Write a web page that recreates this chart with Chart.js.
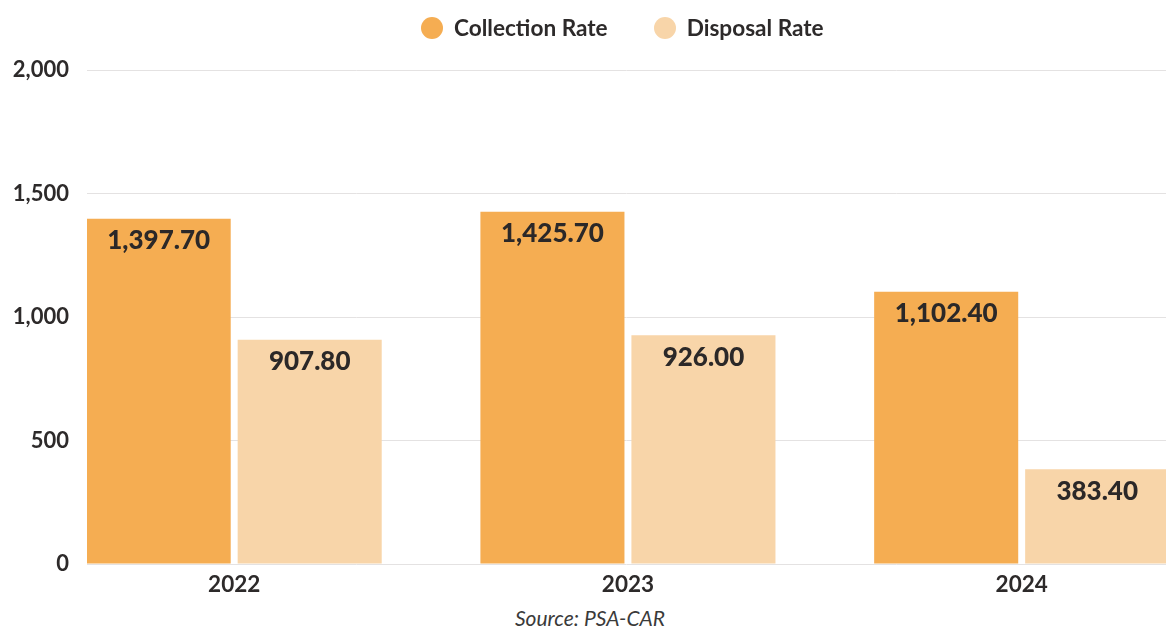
<!DOCTYPE html>
<html lang="en">
<head>
    <meta charset="UTF-8">
    <title>Collection and Disposal Rate</title>
    <script src="https://cdn.jsdelivr.net/npm/chart.js@4.4.1/dist/chart.umd.min.js"></script>
    <style>
        html, body { margin: 0; padding: 0; background: #fff; overflow: hidden; }
        #wrap { position: relative; width: 1166px; height: 630px; font-family: Lato, "Open Sans", sans-serif; }
        #chartBox { position: absolute; left: 0; top: 0; width: 1166px; height: 600px; }
        #legend { position: absolute; left: 421px; top: 14px; display: flex; align-items: center; }
        .item { display: flex; align-items: center; margin-right: 46px; font-weight: bold; font-size: 22.6px; color: #2d2a2a; }
        .dot { width: 22px; height: 22px; border-radius: 50%; margin-right: 11px; }
        #source { position: absolute; left: 0; width: 1180px; top: 605px; text-align: center; font-style: italic; font-size: 21px; color: #3a3a3a; }
    </style>
</head>
<body>
<div id="wrap">
    <div id="chartBox"><canvas id="barChart"></canvas></div>
    <div id="legend"></div>
    <div id="source">Source: PSA-CAR</div>
</div>
<script>
// adatok
const years = ['2022', '2023', '2024'];
const collectionRate = [1397.70, 1425.70, 1102.40];
const disposalRate = [907.80, 926.00, 383.40];
const yTicks = [0, 500, 1000, 1500, 2000];

const fmt = v => v.toLocaleString('en-US', { minimumFractionDigits: 2, maximumFractionDigits: 2 });

// ertekek az oszlopok tetejen
const barLabels = {
    id: 'barLabels',
    afterDatasetsDraw(chart) {
        const ctx = chart.ctx;
        ctx.save();
        ctx.font = '900 26px Lato';
        ctx.fillStyle = '#2b2828';
        ctx.textAlign = 'center';
        ctx.textBaseline = 'middle';
        chart.data.datasets.forEach((ds, i) => {
            chart.getDatasetMeta(i).data.forEach((bar, j) => {
                ctx.fillText(fmt(ds.data[j].y), bar.x, bar.y + 22);
            });
        });
        ctx.restore();
    }
};

const toPoints = arr => arr.map((v, i) => ({ x: i, y: v }));

const chart = new Chart(document.getElementById('barChart'), {
    type: 'bar',
    data: {
        datasets: [
            { label: 'Collection Rate', data: toPoints(collectionRate), backgroundColor: '#f5ad52' },
            { label: 'Disposal Rate', data: toPoints(disposalRate), backgroundColor: '#f8d5a9' }
        ]
    },
    options: {
        responsive: true,
        maintainAspectRatio: false,
        animation: false,
        layout: { padding: { top: 70, right: 0, left: 0, bottom: 0 } },
        datasets: { bar: { categoryPercentage: 0.767, barPercentage: 0.954 } },
        plugins: { legend: { display: false }, tooltip: { enabled: false } },
        scales: {
            x: {
                type: 'linear',
                bounds: 'data',
                offset: false,
                min: -0.3738,
                max: 2.3665,
                grid: { display: false },
                border: { display: false },
                afterBuildTicks: s => { s.ticks = years.map((_, i) => ({ value: i })); },
                afterFit: s => { s.height = 36; },
                ticks: {
                    padding: -1,
                    color: '#2d2a2a',
                    font: { family: 'Lato', size: 22.5, weight: 'bold' },
                    callback: v => years[v]
                }
            },
            y: {
                min: 0,
                max: 2000,
                grid: { color: '#e4e2e2', drawTicks: false },
                border: { display: false },
                afterBuildTicks: s => { s.ticks = yTicks.map(v => ({ value: v })); },
                afterFit: s => { s.width = 87; },
                ticks: {
                    padding: 18,
                    color: '#2d2a2a',
                    font: { family: 'Lato', size: 22, weight: 'bold' },
                    callback: v => v.toLocaleString('en-US')
                }
            }
        }
    },
    plugins: [barLabels]
});

// jelmagyarazat
const legend = document.getElementById('legend');
chart.data.datasets.forEach(ds => {
    const item = document.createElement('div');
    item.className = 'item';
    const dot = document.createElement('span');
    dot.className = 'dot';
    dot.style.background = ds.backgroundColor;
    item.appendChild(dot);
    item.appendChild(document.createTextNode(ds.label));
    legend.appendChild(item);
});
</script>
</body>
</html>
